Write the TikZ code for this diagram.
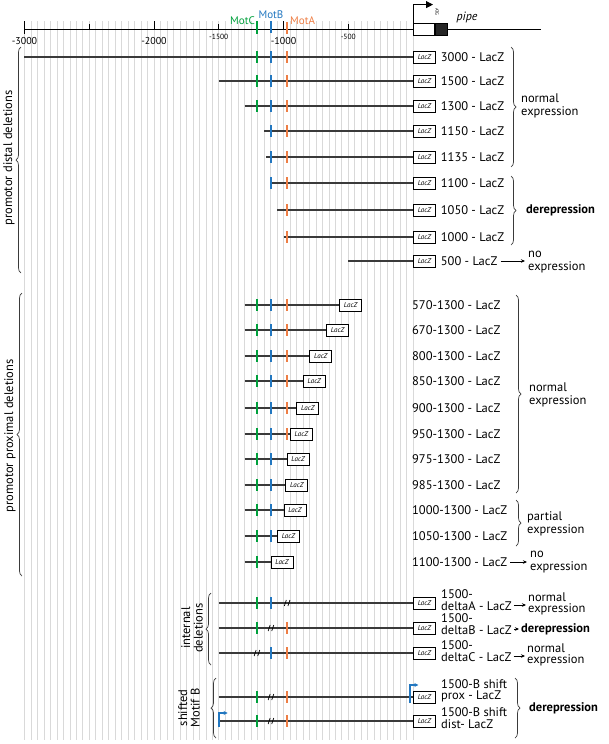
\documentclass[tikz,border=0pt]{standalone}
\usepackage{fontspec}
\setmainfont{PT Sans}
\usetikzlibrary{arrows.meta,decorations.pathreplacing,positioning}
\definecolor{greenC}{RGB}{0,160,60}
\definecolor{blueB}{RGB}{34,119,192}
\definecolor{orangeA}{RGB}{238,126,69}
\definecolor{gridgray}{HTML}{D9D9D9}
\definecolor{rowgray}{HTML}{3A3A3A}
\pgfdeclarelayer{back}
\pgfsetlayers{back,main}
\tikzset{
  lbl/.style={font=\fontsize{12.5}{13.5}\selectfont, inner sep=0pt, anchor=180},
  res/.style={lbl, align=left},
  tight/.style={lbl, align=left, font=\fontsize{12.5}{11.5}\selectfont},
  bres/.style={lbl, font=\fontsize{12.5}{13.5}\selectfont\bfseries},
  side/.style={font=\fontsize{12.5}{12.5}\selectfont, inner sep=0pt, rotate=90, align=center},
  lacz/.style={draw, line width=0.7pt, fill=white, minimum width=22pt, minimum height=12pt, inner sep=0pt, anchor=180, font=\fontsize{7}{7}\selectfont\itshape},
  row/.style={draw=rowgray, line width=1.1pt},
  mtick/.style={line width=1.6pt},
  bgline/.style={draw=gridgray, line width=0.6pt},
  brc/.style={decorate, decoration={brace, amplitude=5pt}, line width=0.7pt, draw=rowgray},
  arr/.style={-{Stealth[length=4pt,width=3.5pt]}, line width=0.7pt},
  pics/dslash/.style={code={\draw[line width=0.7pt] (-2.8pt,-3pt) -- (-0.8pt,3pt) (0.8pt,-3pt) -- (2.8pt,3pt);}}
}
\begin{document}
\begin{tikzpicture}[x=1pt, y=-1pt]
\useasboundingbox (0,0) rectangle (609,744);
\node[draw, line width=0.8pt, fill=white, minimum width=21pt, minimum height=12pt, inner sep=0pt, anchor=180] (ex) at (413,29) {};
\node[draw, line width=0.8pt, fill=black!85, minimum width=12pt, minimum height=12pt, inner sep=0pt, anchor=180] (cds) at (ex.0) {};
\draw[line width=0.9pt] (cds.0) -- (541,29) coordinate (gend);
\draw[line width=0.9pt, -{Triangle[length=7pt,width=7pt]}] (ex.north west) -- ++(0,-18) -- ++(20,0);
\node[font=\fontsize{4.5}{4.5}\selectfont, rotate=-90, inner sep=0pt] (atg) at (437,12) {ATG};
\node[font=\fontsize{12}{12}\selectfont\itshape] (pipe) at (467,17) {pipe};
\node[font=\fontsize{11}{11}\selectfont, text=greenC, anchor=0, inner sep=0pt] (mC) at (255,21) {MotC};
\node[font=\fontsize{11}{11}\selectfont, text=blueB, inner sep=0pt] (mB) at (271,15) {MotB};
\node[font=\fontsize{11}{11}\selectfont, text=orangeA, anchor=180, inner sep=0pt] (mA) at (290,21) {MotA};
\begin{scope}[xshift=413pt, x=0.1295pt]
  \begin{pgfonlayer}{back}
    \foreach \g in {-3000,-2950,...,0} \draw[bgline] (\g,21) -- (\g,740);
  \end{pgfonlayer}
  \draw[line width=0.9pt] (-3000,29) coordinate (ax) -- (ex.180);
  \foreach \p/\h in {-3000/34,-2000/29,-1000/29} \draw[line width=0.9pt] (\p,21) -- (\p,\h);
  \foreach \p in {-2500,-1500,-500} \draw[line width=0.9pt] (\p,24) -- (\p,29);
  \foreach \p/\n in {-3000/3000,-2000/2000,-1000/1000} \node[font=\fontsize{10}{10}\selectfont] (t\n) at (\p,41) {-\n};
  \foreach \p/\n in {-1500/1500,-500/500} \node[font=\fontsize{7.5}{7.5}\selectfont] (t\n) at (\p,37) {-\n};
  \draw[mtick,draw=greenC] (-1205,21) -- (-1205,34);
  \draw[mtick,draw=blueB] (-1097,21) -- (-1097,33);
  \draw[mtick,draw=orangeA] (-972,22) -- (-972,34);
  \foreach \s/\y/\n in {-3000/57/3000,-1500/81/1500,-1300/106/1300,-1150/131/1150,-1135/157/1135,-1100/183/1100,-1050/210/1050,-1000/237/1000,-500/261/500}{
    \node[lacz] (dz\n) at (0,\y) {LacZ};
    \node[lbl] (dl\n) at ([xshift=5pt]dz\n.0) {\n\ - LacZ};
    \begin{pgfonlayer}{back}
      \draw[row] (\s,\y) coordinate (ds\n) -- (dz\n.180);
      \foreach \m/\col in {-1205/greenC,-1097/blueB,-972/orangeA}
        {\ifnum\s>\m\else\draw[mtick,draw=\col] (\m,\y) ++(0,-6) -- ++(0,12);\fi}
    \end{pgfonlayer}
  }
  \foreach \e/\y/\n in {-570/305/570,-670/330/670,-800/356/800,-850/381/850,-900/408/900,-950/434/950,-975/459/975,-985/485/985,-1000/510/1000,-1050/536/1050,-1100/562/1100}{
    \node[lacz] (pz\n) at (\e,\y) {LacZ};
    \node[lbl] (pl\n) at (-8,\y) {\n-1300 - LacZ};
    \begin{pgfonlayer}{back}
      \draw[row] (-1300,\y) coordinate (ps\n) -- (pz\n.180);
      \foreach \m/\col in {-1205/greenC,-1097/blueB,-972/orangeA}
        {\ifnum\m<\e\draw[mtick,draw=\col] (\m,\y) ++(0,-6) -- ++(0,12);\fi}
    \end{pgfonlayer}
  }
  \foreach \y/\n in {603/iA,628/iB,653/iC,697/sP,721/sD}{
    \node[lacz] (z\n) at (0,\y) {LacZ};
    \begin{pgfonlayer}{back}
      \draw[row] (-1500,\y) coordinate (s\n) -- (z\n.180);
    \end{pgfonlayer}
  }
  \foreach \m/\y/\col in {-1205/603/greenC,-1097/603/blueB,-1205/628/greenC,-972/628/orangeA,-1097/653/blueB,-972/653/orangeA,-1205/697/greenC,-972/697/orangeA,-1205/721/greenC,-972/721/orangeA}
    \draw[mtick,draw=\col] (\m,\y) ++(0,-6) -- ++(0,12);
  \foreach \m/\y in {-972/603,-1097/628,-1205/653,-1097/697,-1097/721}
    \pic at (\m,\y) {dslash};
  \draw[mtick,draw=blueB,-{Stealth[length=4pt,width=4pt,fill=blueB]}] (-23,703) -- (-23,685) -- ++(65,0);
  \draw[mtick,draw=blueB,-{Stealth[length=4pt,width=4pt,fill=blueB]}] (-1497,727) -- (-1497,713) -- ++(65,0);
\end{scope}
\draw[brc] (511,47) -- (511,167);
\node[res] (ne1) at (521,106) {normal\\expression};
\draw[brc] (511,176) -- (511,245);
\node[bres] (dr1) at (526,210) {derepression};
\node[res] (no1) at (528,262) {no\\expression};
\draw[arr, shorten <=3pt, shorten >=3pt] (dl500.0) -- (no1.180 |- dl500.0);
\draw[brc] (516,295) -- (516,493);
\node[res] (ne2) at (529,395) {normal\\expression};
\draw[brc] (516,500) -- (516,546);
\node[res] (pe2) at (527,524) {partial\\expression};
\node[res] (no2) at (530,562) {no\\expression};
\draw[arr, shorten <=3pt, shorten >=3pt] (pl1100.0) -- (no2.180 |- pl1100.0);
\node[tight] (liA) at (441,600) {1500-\\deltaA - LacZ};
\node[tight] (liB) at (441,624) {1500-\\deltaB - LacZ};
\node[tight] (liC) at (441,651) {1500-\\deltaC - LacZ};
\node[tight] (lsP) at (441,691) {1500-B shift\\prox - LacZ};
\node[tight] (lsD) at (441,718) {1500-B shift\\dist- LacZ};
\node[res, font=\fontsize{12.5}{11.5}\selectfont] (oiA) at (528,604) {normal\\expression};
\node[bres] (oiB) at (521,629) {derepression};
\node[res, font=\fontsize{12.5}{11.5}\selectfont] (oiC) at (527,655) {normal\\expression};
\path ([yshift=-5pt]liA.0) coordinate (qA) ([yshift=-5pt]liB.0) coordinate (qB) ([yshift=-5pt]liC.0) coordinate (qC);
\draw[arr, shorten <=2pt, shorten >=2pt] (qA) -- (qA -| oiA.180);
\draw[arr, shorten <=2pt, shorten >=2pt] (qB) -- (qB -| oiB.180);
\draw[arr, shorten <=2pt, shorten >=2pt] (qC) -- (qC -| oiC.180);
\draw[brc] (515,678) -- (515,738);
\node[bres] (dr3) at (529,708) {derepression};
\draw[brc] (21,273) -- (21,47);
\node[side] (gd) at (9,158) {promotor distal deletions};
\draw[brc] (22,576) -- (22,293);
\node[side] (gp) at (10,436) {promotor proximal deletions};
\draw[brc] (211,665) -- (211,593);
\node[side] (gi) at (192,628) {internal\\deletions};
\draw[brc] (216,738) -- (216,678);
\node[side] (gs) at (189,708) {shifted\\Motif B};
\end{tikzpicture}
\end{document}
